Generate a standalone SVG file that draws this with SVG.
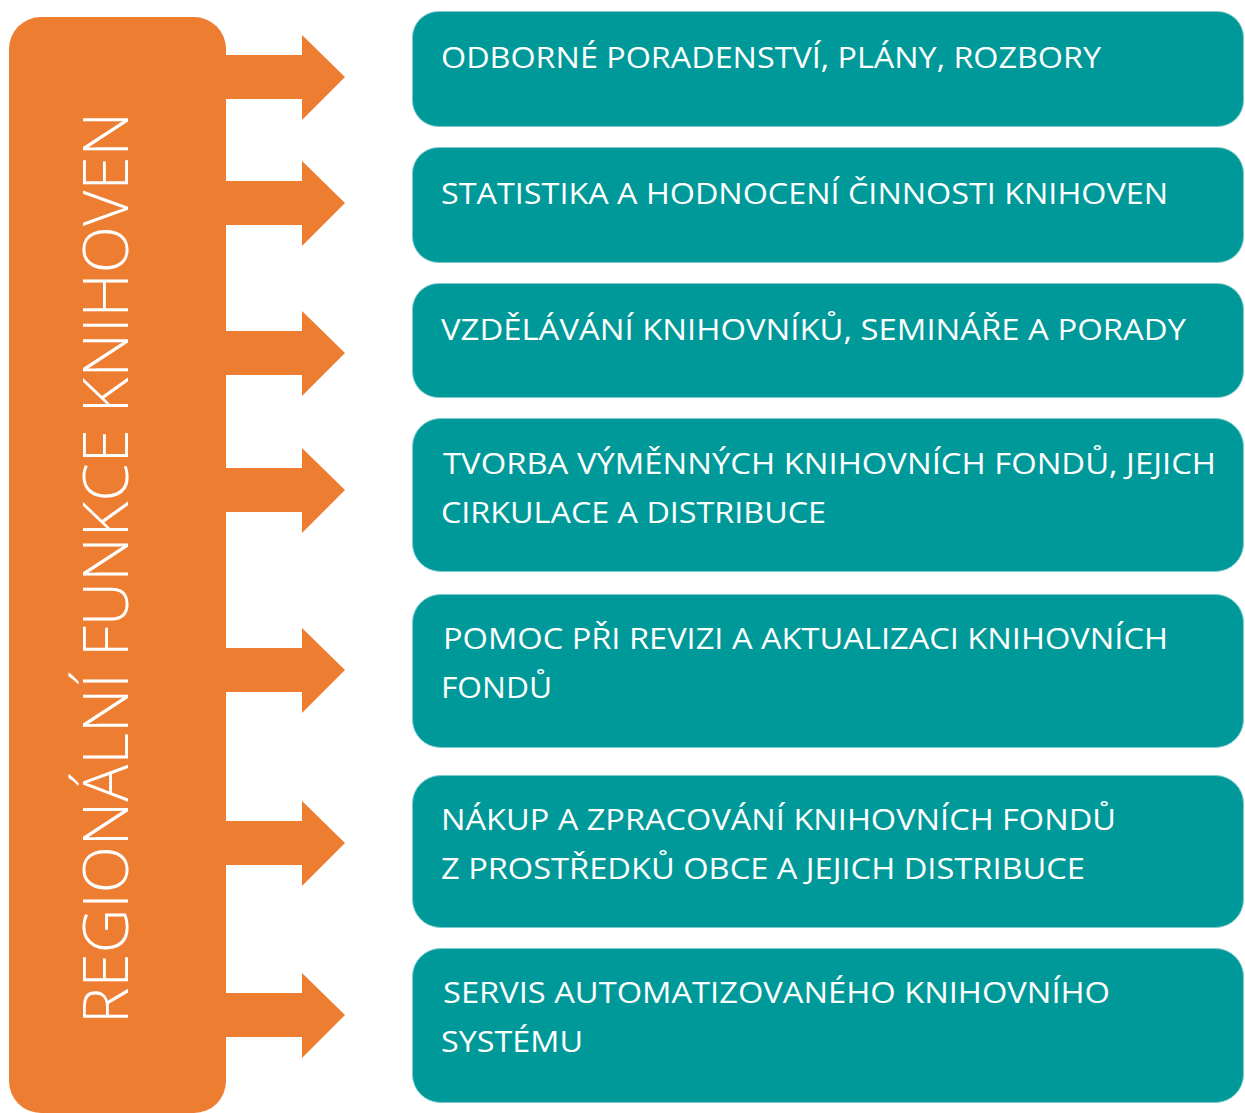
<svg xmlns="http://www.w3.org/2000/svg" width="1245" height="1113" viewBox="0 0 1245 1113">
<defs>
<style>
.bar{fill:#ED7D31;}
.arrow{fill:#ED7D31;}
.box{fill:#009999;stroke:#7FCBCB;stroke-width:1;}
.t{font-family:"Open Sans","Noto Sans","Liberation Sans",sans-serif;font-size:30px;fill:#FFFFFF;}
.vt{font-family:"Open Sans","Noto Sans","Liberation Sans",sans-serif;font-size:62px;font-weight:300;fill:#FFFFFF;}
</style>
</defs>
<rect width="1245" height="1113" fill="#FFFFFF"/>
<g id="main">
<rect class="bar" x="9" y="17" width="217" height="1096" rx="32" ry="32"/>
<text class="vt" transform="translate(128,1024) rotate(-90)" textLength="912" lengthAdjust="spacingAndGlyphs">REGIONÁLNÍ FUNKCE KNIHOVEN</text>
</g>
<g id="connectors">
<polygon class="arrow" points="224,55 302,55 302,35 345,77 302,120 302,99 224,99"/>
<polygon class="arrow" points="224,181 302,181 302,161 345,203 302,246 302,225 224,225"/>
<polygon class="arrow" points="224,331 302,331 302,311 345,353 302,396 302,375 224,375"/>
<polygon class="arrow" points="224,468 302,468 302,448 345,490 302,533 302,512 224,512"/>
<polygon class="arrow" points="224,648 302,648 302,628 345,670 302,713 302,692 224,692"/>
<polygon class="arrow" points="224,821 302,821 302,801 345,843 302,886 302,865 224,865"/>
<polygon class="arrow" points="224,993 302,993 302,973 345,1015 302,1058 302,1037 224,1037"/>
</g>
<g id="n1">
<rect class="box" x="412.5" y="11.5" width="831" height="115" rx="26"/>
<text class="t" x="441" y="68" textLength="660" lengthAdjust="spacingAndGlyphs">ODBORNÉ PORADENSTVÍ, PLÁNY, ROZBORY</text>
</g>
<g id="n2">
<rect class="box" x="412.5" y="147.5" width="831" height="115" rx="26"/>
<text class="t" x="441" y="204" textLength="727" lengthAdjust="spacingAndGlyphs">STATISTIKA A HODNOCENÍ ČINNOSTI KNIHOVEN</text>
</g>
<g id="n3">
<rect class="box" x="412.5" y="283.5" width="831" height="114" rx="26"/>
<text class="t" x="441" y="340" textLength="745" lengthAdjust="spacingAndGlyphs">VZDĚLÁVÁNÍ KNIHOVNÍKŮ, SEMINÁŘE A PORADY</text>
</g>
<g id="n4">
<rect class="box" x="412.5" y="418.5" width="831" height="153" rx="28"/>
<text class="t" x="443" y="474" textLength="773" lengthAdjust="spacingAndGlyphs">TVORBA VÝMĚNNÝCH KNIHOVNÍCH FONDŮ, JEJICH</text>
<text class="t" x="441" y="523" textLength="385" lengthAdjust="spacingAndGlyphs">CIRKULACE A DISTRIBUCE</text>
</g>
<g id="n5">
<rect class="box" x="412.5" y="594.5" width="831" height="153" rx="28"/>
<text class="t" x="443" y="649" textLength="725" lengthAdjust="spacingAndGlyphs">POMOC PŘI REVIZI A AKTUALIZACI KNIHOVNÍCH</text>
<text class="t" x="441" y="698" textLength="111" lengthAdjust="spacingAndGlyphs">FONDŮ</text>
</g>
<g id="n6">
<rect class="box" x="412.5" y="775.5" width="831" height="152" rx="28"/>
<text class="t" x="441" y="830" textLength="675" lengthAdjust="spacingAndGlyphs">NÁKUP A ZPRACOVÁNÍ KNIHOVNÍCH FONDŮ</text>
<text class="t" x="441" y="879" textLength="644" lengthAdjust="spacingAndGlyphs">Z PROSTŘEDKŮ OBCE A JEJICH DISTRIBUCE</text>
</g>
<g id="n7">
<rect class="box" x="412.5" y="948.5" width="831" height="154" rx="28"/>
<text class="t" x="443" y="1003" textLength="667" lengthAdjust="spacingAndGlyphs">SERVIS AUTOMATIZOVANÉHO KNIHOVNÍHO</text>
<text class="t" x="441" y="1052" textLength="142" lengthAdjust="spacingAndGlyphs">SYSTÉMU</text>
</g>
</svg>
